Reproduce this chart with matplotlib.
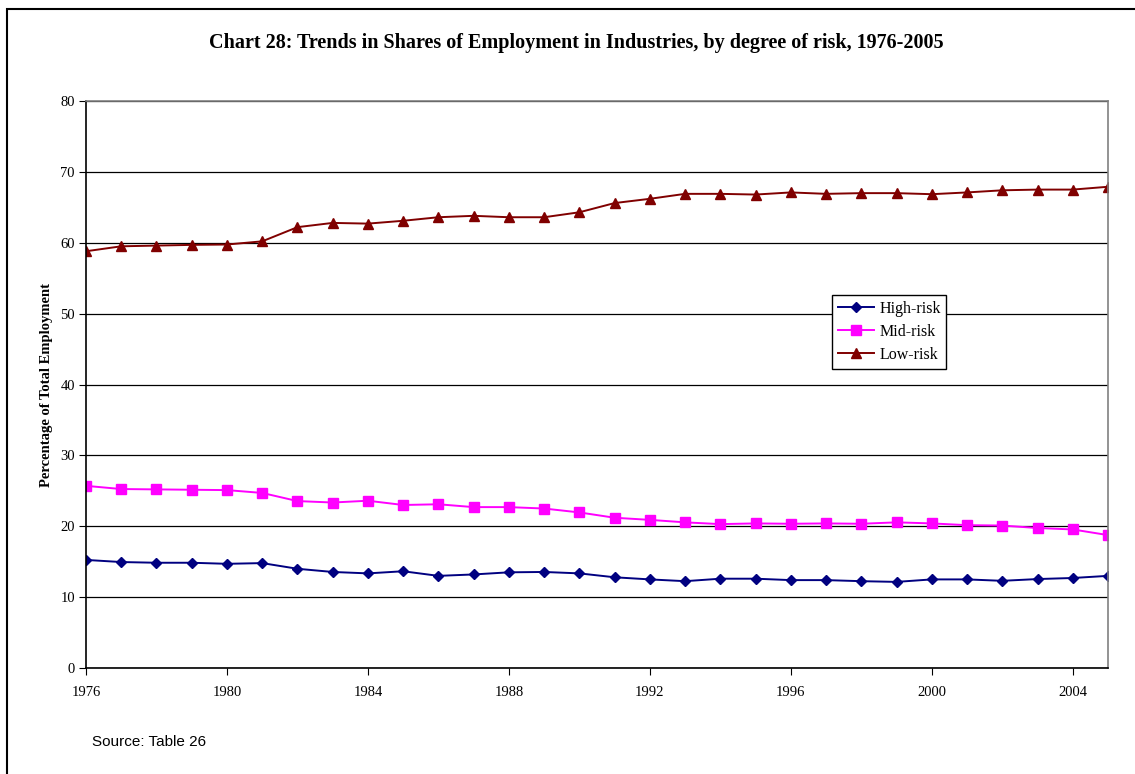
import matplotlib
matplotlib.use("Agg")
import matplotlib.pyplot as plt
from matplotlib.patches import Rectangle

# ─ DATA ─
years = list(range(1976, 2006))

high_risk = [15.25, 14.95, 14.85, 14.85, 14.7, 14.8, 14.0, 13.55, 13.35, 13.65,
             13.0, 13.2, 13.5, 13.55, 13.35, 12.8, 12.5, 12.25, 12.6, 12.6,
             12.4, 12.4, 12.25, 12.15, 12.5, 12.5, 12.3, 12.55, 12.7, 13.0]

mid_risk = [25.7, 25.25, 25.2, 25.15, 25.1, 24.7, 23.55, 23.35, 23.6, 23.0,
            23.1, 22.7, 22.7, 22.5, 21.95, 21.2, 20.9, 20.55, 20.3, 20.4,
            20.35, 20.4, 20.35, 20.55, 20.4, 20.15, 20.1, 19.75, 19.55, 18.75]

low_risk = [58.8, 59.5, 59.6, 59.7, 59.75, 60.2, 62.2, 62.8, 62.7, 63.1,
            63.6, 63.8, 63.6, 63.6, 64.3, 65.6, 66.2, 66.9, 66.9, 66.8,
            67.1, 66.9, 67.0, 67.0, 66.85, 67.1, 67.4, 67.5, 67.5, 67.9]

x_ticks = list(range(1976, 2005, 4))
y_ticks = list(range(0, 81, 10))

# ─ FIGURE ─
W, H = 1135, 774
fig = plt.figure(figsize=(W / 100, H / 100), dpi=100)
serif = "Liberation Serif"

ax = fig.add_axes([86 / W, 1 - 668 / H, (1108 - 86) / W, (668 - 101) / H])

ax.plot(years, high_risk, color="#000080", marker="D", markersize=5.5, lw=1.4,
        label="High-risk")
ax.plot(years, mid_risk, color="#FF00FF", marker="s", markersize=7, lw=1.4,
        label="Mid-risk")
ax.plot(years, low_risk, color="#800000", marker="^", markersize=7.5, lw=1.4,
        label="Low-risk")

ax.set_xlim(1976, 2005)
ax.set_ylim(0, 80)
ax.set_xticks(x_ticks)
ax.set_yticks(y_ticks)
ax.set_xticklabels([str(y) for y in x_ticks], family=serif, fontsize=10.5)
ax.set_yticklabels([str(v) for v in y_ticks], family=serif, fontsize=10.5)
ax.tick_params(axis="x", direction="out", length=5, pad=8, color="black")
ax.tick_params(axis="y", direction="out", length=5, pad=3, color="black")

ax.grid(axis="y", color="black", lw=0.9)
ax.set_axisbelow(True)
for s in ["left", "bottom"]:
    ax.spines[s].set_color("black")
    ax.spines[s].set_linewidth(1.2)
for s in ["top", "right"]:
    ax.spines[s].set_color("#808080")
    ax.spines[s].set_linewidth(1.2)

ax.set_ylabel("Percentage of Total Employment", family=serif, fontsize=10.5,
              fontweight="bold", labelpad=5)

leg = ax.legend(loc="upper left", bbox_to_anchor=((832 - 86) / 1022, 1 - (295 - 101) / 567),
                prop={"family": serif, "size": 11.5}, frameon=True, fancybox=False,
                edgecolor="black", framealpha=1, borderaxespad=0, handlelength=2.3,
                handletextpad=0.3, labelspacing=0.45, borderpad=0.35)
leg.get_frame().set_linewidth(1)

fig.text(576 / W, 1 - 43 / H,
         "Chart 28: Trends in Shares of Employment in Industries, by degree of risk, 1976-2005",
         ha="center", va="center", family=serif, fontsize=14.5, fontweight="bold")

fig.text(92 / W, 1 - 742 / H, "Source: Table 26", ha="left", va="center",
         family="Liberation Sans", fontsize=11)

# outer frame
fig.patches.append(Rectangle((7 / W, -0.05), 1.1, 1 - 9 / H + 0.05,
                             transform=fig.transFigure, fill=False,
                             edgecolor="black", lw=1.5))

fig.savefig("out.png", dpi=100)
